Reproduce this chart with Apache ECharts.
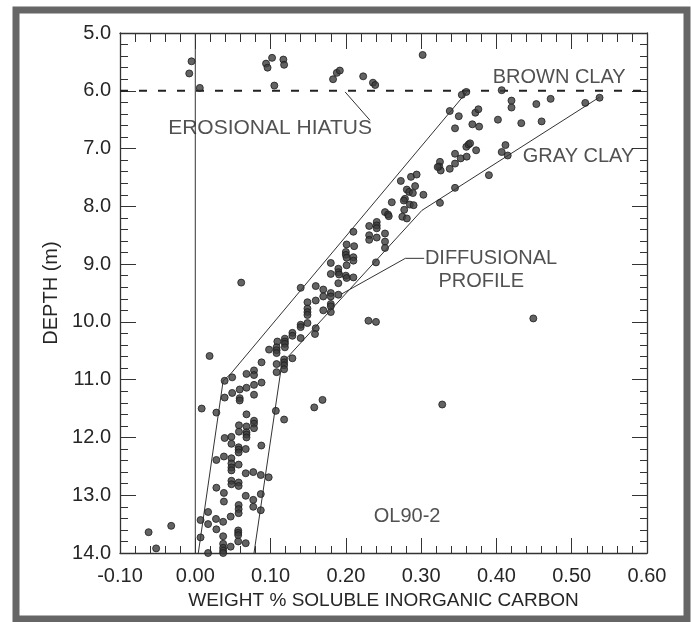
<!DOCTYPE html>
<html><head><meta charset="utf-8">
<script src="https://cdn.jsdelivr.net/npm/echarts@6/dist/echarts.min.js"></script>
<style>html,body{margin:0;padding:0;background:#fff}#c{width:691px;height:622px}</style>
</head><body><div id="c"></div>
<script>
// ---- tick labels ----
const xTickLabels = ['-0.10','0.00','0.10','0.20','0.30','0.40','0.50','0.60'];
const yTickLabels = ['5.0','6.0','7.0','8.0','9.0','10.0','11.0','12.0','13.0','14.0'];

// ---- scatter samples: weight % soluble inorganic carbon vs depth (m) ----
const weightPct = [
  -0.005,-0.008,0.006,0.094,0.096,0.102,0.105,0.117,0.118,0.183,0.188,0.192,0.223,0.236,0.239,0.302,
  0.354,0.360,0.407,0.420,0.420,0.453,0.472,0.518,0.537,
  0.338,0.350,0.372,0.376,0.345,0.368,0.377,0.402,0.433,0.460,
  0.360,0.363,0.365,0.373,0.345,0.3525,0.3605,0.345,0.338,
  0.325,0.324,0.326,0.322,
  0.412,0.407,0.415,0.390,0.345,0.325,
  0.273,0.2865,0.294,0.292,0.281,0.284,0.289,0.2785,0.277,0.303,
  0.261,0.285,0.290,0.252,0.256,0.257,0.2775,0.275,0.281,
  0.210,0.231,0.241,0.241,0.241,0.231,0.231,0.241,0.252,0.252,0.252,
  0.201,0.211,0.200,0.200,0.201,0.210,0.210,0.180,0.201,0.240,
  0.180,0.190,0.190,0.191,0.200,0.201,0.210,0.190,
  0.140,0.160,0.170,0.170,0.180,0.180,0.190,0.160,0.149,
  0.180,0.180,0.180,0.170,0.149,0.149,0.149,
  0.140,0.140,0.149,0.160,0.230,0.240,
  0.159,0.129,0.129,0.119,0.119,0.140,0.109,0.108,0.108,0.108,0.119,0.119,0.098,
  0.118,0.118,0.118,0.118,0.129,0.088,0.108,0.108,0.019,
  0.068,0.078,0.078,0.049,0.039,0.088,0.078,0.068,0.059,0.049,0.039,0.059,0.059,0.078,
  0.0085,0.028,0.107,0.158,0.169,0.068,0.118,
  0.078,0.078,0.078,0.058,0.068,0.058,0.068,0.068,0.068,0.048,0.039,
  0.061,0.328,0.449,
  0.0877,0.048,0.0576,0.0576,0.0576,0.067,0.028,0.038,0.048,0.048,0.048,0.048,0.0576,
  0.067,0.077,0.087,0.0975,0.048,0.048,0.0576,0.0576,0.028,0.038,0.067,0.087,0.038,0.077,
  0.0576,0.0576,0.0576,0.077,0.087,0.017,0.007,0.0275,0.037,0.017,0.047,0.028,
  -0.032,-0.062,-0.052,
  0.057,0.057,0.057,0.007,0.037,0.047,0.057,0.067,0.037,0.037,0.037,0.037,0.017
];
const depthM = [
  5.49,5.70,5.95,5.53,5.60,5.43,5.91,5.46,5.55,5.80,5.69,5.65,5.75,5.86,5.90,5.38,
  6.07,6.02,5.99,6.17,6.29,6.23,6.14,6.21,6.12,
  6.35,6.44,6.38,6.32,6.65,6.58,6.62,6.50,6.56,6.53,
  6.97,6.93,6.91,7.03,7.09,7.17,7.14,7.26,7.35,
  7.23,7.31,7.38,7.32,
  6.94,7.06,7.12,7.46,7.68,7.94,
  7.56,7.49,7.45,7.65,7.71,7.75,7.77,7.87,7.90,7.80,
  7.93,7.97,7.98,8.10,8.14,8.17,8.06,8.18,8.21,
  8.44,8.34,8.27,8.33,8.38,8.50,8.58,8.54,8.47,8.61,8.72,
  8.66,8.69,8.79,8.84,8.89,8.88,8.94,8.98,9.02,8.97,
  9.17,9.08,9.14,9.18,9.20,9.24,9.23,9.33,
  9.41,9.38,9.44,9.56,9.50,9.56,9.53,9.63,9.66,
  9.69,9.73,9.83,9.80,9.77,9.83,9.88,
  10.05,10.09,10.02,10.11,9.98,10.00,
  10.21,10.19,10.24,10.29,10.34,10.28,10.34,10.44,10.49,10.54,10.38,10.44,10.48,
  10.65,10.70,10.75,10.82,10.63,10.70,10.73,10.87,10.59,
  10.90,10.84,10.92,10.96,11.02,11.05,11.09,11.14,11.17,11.23,11.31,11.32,11.36,11.26,
  11.50,11.57,11.54,11.48,11.35,11.60,11.69,
  11.71,11.76,11.84,11.79,11.81,11.90,11.91,11.95,12.00,11.99,12.01,
  9.32,11.43,9.94,
  12.14,12.11,12.17,12.21,12.26,12.20,12.39,12.33,12.36,12.45,12.52,12.57,12.47,
  12.62,12.60,12.65,12.69,12.75,12.81,12.78,12.84,12.87,12.96,13.01,12.98,13.11,13.08,
  13.17,13.24,13.31,13.20,13.26,13.29,13.43,13.41,13.46,13.50,13.37,13.59,
  13.53,13.64,13.92,
  13.61,13.65,13.69,13.73,13.71,13.89,13.80,13.83,13.84,13.91,13.96,14.00,14.00
];

// ---- reference / envelope lines (weight %, depth) ----
const zeroLineX = [0, 0];           const zeroLineY = [5, 14];
const hiatusX = [-0.1, 0.6];        const hiatusY = [6.0, 6.0];
const leftEnvX = [0.362, 0.047, 0.037, 0.004];  const leftEnvY = [6.0, 10.9, 11.02, 14.0];
const rightEnvX = [0.537, 0.301, 0.115, 0.078]; const rightEnvY = [6.11, 8.07, 10.72, 14.0];
const hiatusLeaderX = [0.199, 0.232];           const hiatusLeaderY = [6.02, 6.51];
const diffLeaderX = [0.304, 0.279, 0.194];      const diffLeaderY = [8.90, 8.90, 9.52];

// ---- annotation texts and anchors ----
const noteText = ['BROWN CLAY','GRAY CLAY','EROSIONAL HIATUS','DIFFUSIONAL','PROFILE','OL90-2'];
const noteX = [0.395, 0.435, -0.036, 0.305, 0.323, 0.237];
const noteY = [5.77, 7.14, 6.64, 8.90, 9.30, 13.375];
const noteFont = [20, 20, 21, 20, 20, 20];

const zip = (a, b) => a.map((v, i) => [v, b[i]]);
const FONT = 'Liberation Sans';
const INK = '#262626';

const chart = echarts.init(document.getElementById('c'), null, {renderer: 'canvas'});

function lineSeries(xs, ys, extra) {
  return Object.assign({
    type: 'line', data: zip(xs, ys), symbol: 'none', silent: true,
    lineStyle: {color: '#333', width: 1}, z: 3, animation: false
  }, extra || {});
}

const baseX = {
  type: 'value', min: -0.1, max: 0.6, interval: 0.1,
  axisLine: {show: true, onZero: false, lineStyle: {color: '#333', width: 1.3}},
  splitLine: {show: false}
};
const baseY = {
  type: 'value', min: 5, max: 14, interval: 1, inverse: true,
  axisLine: {show: true, onZero: false, lineStyle: {color: '#333', width: 1.3}},
  splitLine: {show: false}
};

chart.setOption({
  animation: false,
  backgroundColor: '#fff',
  grid: {left: 120, right: 44, top: 33, bottom: 69},
  graphic: [{
    type: 'rect', shape: {x: 16, y: 10, width: 671, height: 609},
    style: {fill: 'none', stroke: '#666', lineWidth: 7}, z: 100
  }],
  xAxis: [
    Object.assign({}, baseX, {
      position: 'bottom',
      axisTick: {show: true, inside: true, length: 15, lineStyle: {color: '#333'}},
      minorTick: {show: true, splitNumber: 5, length: 7, lineStyle: {color: '#333'}},
      axisLabel: {
        margin: 13, fontSize: 20, color: INK, fontFamily: FONT,
        formatter: v => xTickLabels[Math.round((v + 0.1) * 10)]
      },
      name: 'WEIGHT % SOLUBLE INORGANIC CARBON', nameLocation: 'middle', nameGap: 37,
      nameTextStyle: {fontSize: 19, color: INK, fontFamily: FONT}
    }),
    Object.assign({}, baseX, {
      position: 'top',
      axisTick: {show: true, inside: true, length: 16, lineStyle: {color: '#333'}},
      minorTick: {show: true, splitNumber: 5, length: 9, lineStyle: {color: '#333'}},
      axisLabel: {show: false}
    })
  ],
  yAxis: [
    Object.assign({}, baseY, {
      position: 'left',
      axisTick: {show: true, inside: true, length: 16, lineStyle: {color: '#333'}},
      minorTick: {show: true, splitNumber: 5, length: 8, lineStyle: {color: '#333'}},
      axisLabel: {
        margin: 9, fontSize: 20, color: INK, fontFamily: FONT,
        formatter: v => yTickLabels[Math.round(v - 5)]
      },
      name: 'DEPTH (m)', nameLocation: 'middle', nameGap: 57, nameRotate: 90,
      nameTextStyle: {fontSize: 20, color: INK, fontFamily: FONT}
    }),
    Object.assign({}, baseY, {
      position: 'right',
      axisTick: {show: true, inside: true, length: 15, lineStyle: {color: '#333'}},
      minorTick: {show: true, splitNumber: 5, length: 7, lineStyle: {color: '#333'}},
      axisLabel: {show: false}
    })
  ],
  series: [
    lineSeries(zeroLineX, zeroLineY),
    lineSeries(hiatusX, hiatusY, {lineStyle: {color: '#222', width: 2, type: [8, 11]}}),
    lineSeries(leftEnvX, leftEnvY),
    lineSeries(rightEnvX, rightEnvY),
    lineSeries(hiatusLeaderX, hiatusLeaderY),
    lineSeries(diffLeaderX, diffLeaderY),
    {
      type: 'scatter', data: zip(weightPct, depthM), symbol: 'circle', symbolSize: 7,
      itemStyle: {color: '#3c3c3c', borderColor: '#1e1e1e', borderWidth: 1}, z: 5, clip: false,
      silent: true
    },
    {
      type: 'scatter', silent: true, symbolSize: 0, z: 6,
      data: noteX.map((x, i) => ({
        value: [x, noteY[i]], name: noteText[i], label: {fontSize: noteFont[i]}
      })),
      label: {
        show: true, position: 'right', distance: 0, formatter: p => p.name,
        fontSize: 20, color: INK, fontFamily: FONT, verticalAlign: 'middle'
      }
    }
  ]
});
</script>
</body></html>
